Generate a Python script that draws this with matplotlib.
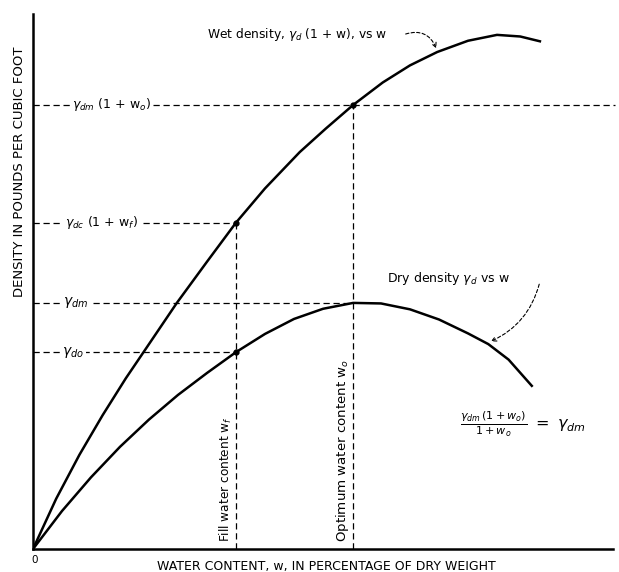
import matplotlib.pyplot as plt
import matplotlib as mpl
import numpy as np

mpl.rcParams.update({
    'font.family': 'DejaVu Sans',
    'font.size': 8,
    'mathtext.fontset': 'dejavusans',
    'axes.linewidth': 1.8,
})

# water content (arbitrary units, 0-100) and densities
wet_w = [0, 4, 8, 12, 16, 19, 24.8, 30, 35, 40, 46, 50.5, 55.2, 60.3, 65,
         69.7, 75, 80, 84, 87.4]
wet_gamma = [0, 9.4, 17.6, 25.0, 31.9, 36.7, 46.0, 53.7, 61.0, 67.4, 74.2,
             78.6, 83.0, 87.2, 90.4, 92.9, 95.0, 96.1, 95.8, 94.9]

dry_w = [0, 5, 10, 15, 20, 25, 30, 35, 40, 45, 50, 55.2, 60, 65, 70, 75,
         78.5, 82, 86]
dry_gamma = [0, 7.1, 13.4, 19.1, 24.2, 28.8, 32.9, 36.8, 40.2, 43.0, 44.9,
             46.0, 45.9, 44.8, 42.9, 40.3, 38.3, 35.4, 30.5]

w_f = 35.0
w_o = 55.2
levels = {
    'dm_wet': 83.0,   # gamma_dm (1 + wo)
    'dc_wet': 61.0,   # gamma_dc (1 + wf)
    'dm': 46.0,       # gamma_dm
    'do': 36.8,       # gamma_do
}

fig = plt.figure(figsize=(6.19, 5.72), dpi=100)
ax = fig.add_axes([0.0533, 0.0402, 0.937, 0.9353])

dash = dict(color='black', lw=0.9, linestyle=(0, (5, 3)), zorder=1)

# horizontal guide lines
ax.plot([0, 100.3], [levels['dm_wet']] * 2, clip_on=False, **dash)
ax.plot([0, w_f], [levels['dc_wet']] * 2, **dash)
ax.plot([0, w_o], [levels['dm']] * 2, **dash)
ax.plot([0, w_f], [levels['do']] * 2, **dash)

# vertical guide lines
ax.plot([w_f, w_f], [0, levels['dc_wet']], **dash)
ax.plot([w_o, w_o], [0, levels['dm_wet']], **dash)

# curves
ax.plot(wet_w, wet_gamma, color='black', lw=1.8, zorder=3,
        solid_joinstyle='round')
ax.plot(dry_w, dry_gamma, color='black', lw=1.8, zorder=3,
        solid_joinstyle='round')

# intersection dots
ax.plot([w_f, w_f, w_o], [levels['dc_wet'], levels['do'], levels['dm_wet']],
        'o', color='black', ms=3.5, zorder=4)

box = dict(facecolor='white', edgecolor='none', pad=1.5)
ax.text(6.7, levels['dm_wet'], r'$\gamma_{dm}$ (1 + w$_o$)', va='center',
        fontsize=9, bbox=box, zorder=2)
ax.text(5.5, levels['dc_wet'], r'$\gamma_{dc}$ (1 + w$_f$)', va='center',
        fontsize=9, bbox=box, zorder=2)
ax.text(5.2, levels['dm'], r'$\gamma_{dm}$', va='center', fontsize=10,
        bbox=box, zorder=2)
ax.text(5.0, levels['do'], r'$\gamma_{do}$', va='center', fontsize=10,
        bbox=box, zorder=2)

ax.text(w_f - 0.4, 1.3, r'Fill water content w$_f$', rotation=90,
        ha='right', va='bottom', fontsize=8.7)
ax.text(w_o - 0.4, 1.3, r'Optimum water content w$_o$', rotation=90,
        ha='right', va='bottom', fontsize=9.6)

ax.text(30.0, 96.1, r'Wet density, $\gamma_d$ (1 + w), vs w', va='center',
        fontsize=8.8)
ax.annotate('', xy=(69.7, 93.1), xytext=(63.8, 96.1),
            arrowprops=dict(arrowstyle='->', lw=0.8, linestyle=(0, (3, 2)),
                            connectionstyle='arc3,rad=-0.5'))

ax.text(61.0, 50.5, r'Dry density $\gamma_d$ vs w', va='center', fontsize=9)
ax.annotate('', xy=(78.5, 38.6), xytext=(87.4, 50.0),
            arrowprops=dict(arrowstyle='->', lw=0.8, linestyle=(0, (3, 2)),
                            connectionstyle='arc3,rad=-0.25'))

ax.text(84.5, 23.3,
        r'$\frac{\gamma_{dm}\,(1 + w_o)}{1 + w_o}\ =\ \gamma_{dm}$',
        ha='center', va='center', fontsize=11.5)

ax.set_xlim(0, 100)
ax.set_ylim(0, 100)
ax.set_xticks([])
ax.set_yticks([])
ax.spines['right'].set_visible(False)
ax.spines['top'].set_visible(False)

ax.text(0.2, -1.2, '0', ha='center', va='top', fontsize=7.5)
ax.set_xlabel('WATER CONTENT, w, IN PERCENTAGE OF DRY WEIGHT', fontsize=9)
ax.xaxis.set_label_coords(0.505, -0.02, transform=ax.transAxes)
ax.xaxis.label.set_va('top')
ax.set_ylabel('DENSITY IN POUNDS PER CUBIC FOOT', fontsize=9.5)
ax.yaxis.set_label_coords(-0.012, 0.705)

fig.savefig('out.png', dpi=100)
plt.close()
